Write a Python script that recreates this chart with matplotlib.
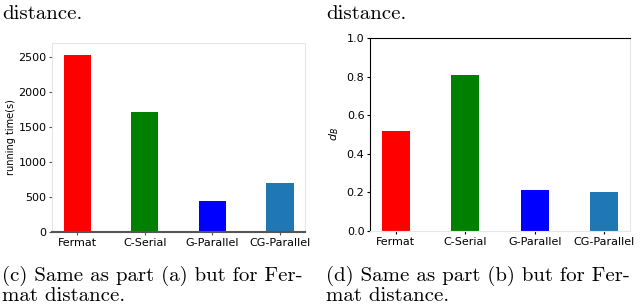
import matplotlib.pyplot as plt

methods = ["Fermat", "C-Serial", "G-Parallel", "CG-Parallel"]
run_times = [2530, 1710, 447, 696]
d_b = [0.52, 0.81, 0.21, 0.20]
bar_colors = ["red", "green", "blue", "#1f77b4"]

fig = plt.figure(figsize=(6.4, 3.05), dpi=100)

# (c) running time
ax1 = fig.add_axes([52/640, 1 - 232/305, 253/640, 189/305])
ax1.bar(methods, run_times, width=0.4, color=bar_colors)
ax1.set_ylim(0, 2700)
ax1.set_yticks([0, 500, 1000, 1500, 2000, 2500])
ax1.set_ylabel("running time(s)", fontsize=7, labelpad=2)
for s in ax1.spines.values():
    s.set_color("#e6e6e6")
ax1.spines["bottom"].set_color("#555555")
ax1.spines["bottom"].set_linewidth(1.5)
ax1.tick_params(labelsize=8, length=2, pad=2, color="#555555")

# (d) d_B
ax2 = fig.add_axes([370/640, 1 - 231/305, 260/640, 193/305])
ax2.bar(methods, d_b, width=0.4, color=bar_colors)
ax2.set_ylim(0, 1.0)
ax2.set_ylabel("$d_B$", fontsize=8, labelpad=4)
ax2.spines["top"].set_color("black")
ax2.spines["left"].set_color("black")
ax2.spines["bottom"].set_color("#e6e6e6")
ax2.spines["right"].set_color("#e6e6e6")
ax2.tick_params(labelsize=8, length=2, pad=2)

# caption text from the page
cap = dict(fontsize=15, family="cmr10", va="top")
fig.text(2/640, 1 - 5/305, "distance.", **cap)
fig.text(326/640, 1 - 5/305, "distance.", **cap)
fig.text(2/640, 1 - 266/305, "(c) Same as part (a) but for Fer-\nmat distance.", linespacing=1.05, **cap)
fig.text(326/640, 1 - 266/305, "(d) Same as part (b) but for Fer-\nmat distance.", linespacing=1.05, **cap)

fig.savefig("out.png", dpi=100)
